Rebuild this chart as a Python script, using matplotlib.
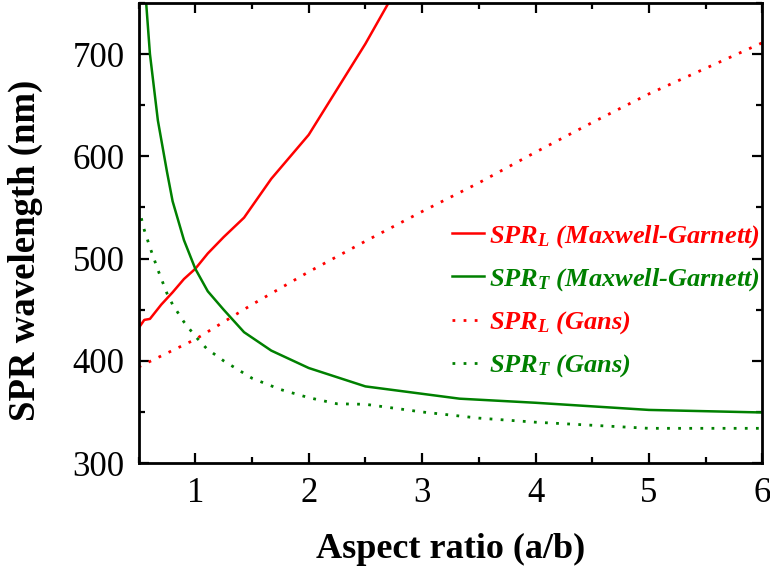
import matplotlib
matplotlib.use("Agg")
import matplotlib.pyplot as plt
from matplotlib.ticker import MultipleLocator

plt.rcParams['font.family'] = ['Liberation Serif', 'DejaVu Serif']
plt.rcParams['mathtext.fontset'] = 'custom'
plt.rcParams['mathtext.it'] = 'Liberation Serif:bold:italic'
plt.rcParams['mathtext.rm'] = 'Liberation Serif:bold'

# SPR_L (Maxwell-Garnett)
mg_l_x = [0.5, 0.55, 0.6, 0.7, 0.8, 0.9, 1.0, 1.11, 1.25, 1.43, 1.67, 2.0, 2.5, 3.0]
mg_l_y = [432, 440, 441, 455, 467, 480, 490, 505, 521, 540, 578, 621, 710, 808]

# SPR_T (Maxwell-Garnett)
mg_t_x = [0.55, 0.6, 0.67, 0.75, 0.8, 0.9, 1.0, 1.11, 1.25, 1.43, 1.67, 2.0, 2.5, 3.33, 4.0, 5.0, 6.0]
mg_t_y = [775, 700, 635, 585, 556, 518, 490, 468, 450, 428, 410, 393, 375, 363, 359, 352, 349.5]

# SPR_L (Gans)
gans_l_x = [0.5, 1.0, 1.5, 2.0, 2.5, 3.0, 3.5, 4.0, 4.5, 5.0, 5.5, 6.0]
gans_l_y = [394, 421, 455, 487, 517, 546, 574, 604, 633, 661, 686, 711]

# SPR_T (Gans)
gans_t_x = [0.5, 0.55, 0.6, 0.67, 0.75, 0.8, 0.9, 1.0, 1.1, 1.25, 1.5, 1.75, 2.0, 2.25, 2.5, 3.0, 3.5, 4.0, 4.5, 5.0, 6.0]
gans_t_y = [550, 528, 511, 489, 466, 455, 438, 424, 412, 400, 383, 372, 364, 358, 357.5, 350, 344, 340, 337, 334, 334]

RED = '#FF0000'
GREEN = '#008000'

fig = plt.figure(figsize=(7.7, 5.76), dpi=100)
ax = fig.add_axes([0.180, 0.196, 0.810, 0.799])

ax.plot(mg_l_x, mg_l_y, color=RED, lw=1.8, label=r'$SPR_L$ (Maxwell-Garnett)')
ax.plot(mg_t_x, mg_t_y, color=GREEN, lw=1.8, label=r'$SPR_T$ (Maxwell-Garnett)')
ax.plot(gans_l_x, gans_l_y, color=RED, lw=2, ls=(0, (1, 3)), label=r'$SPR_L$ (Gans)')
ax.plot(gans_t_x, gans_t_y, color=GREEN, lw=2, ls=(0, (1, 3)), label=r'$SPR_T$ (Gans)')

ax.set_xlim(0.5, 6)
ax.set_ylim(300, 750)
ax.xaxis.set_major_locator(MultipleLocator(1))
ax.xaxis.set_minor_locator(MultipleLocator(0.5))
ax.yaxis.set_major_locator(MultipleLocator(100))
ax.yaxis.set_minor_locator(MultipleLocator(50))

for s in ax.spines.values():
    s.set_linewidth(2)
ax.tick_params(which='both', direction='in', top=True, right=True, width=1.6)
ax.tick_params(which='major', length=7, labelsize=25, pad=10)
ax.tick_params(which='minor', length=4.5)

ax.set_xlabel('Aspect ratio (a/b)', fontsize=26, fontweight='bold')
ax.set_ylabel('SPR wavelength (nm)', fontsize=26.5, fontweight='bold')
ax.xaxis.set_label_coords(0.5, -0.152)
ax.yaxis.set_label_coords(-0.154, 0.463)

leg = ax.legend(loc='upper left', bbox_to_anchor=(452 / 770, 1 - 223 / 576),
                bbox_transform=fig.transFigure, frameon=False, borderpad=0,
                borderaxespad=0, handlelength=1.2, handletextpad=0.2,
                labelspacing=0.62,
                prop={'family': 'Liberation Serif', 'style': 'italic',
                      'weight': 'bold', 'size': 19})
for txt, c in zip(leg.get_texts(), [RED, GREEN, RED, GREEN]):
    txt.set_color(c)

fig.savefig('out.png', dpi=100)
